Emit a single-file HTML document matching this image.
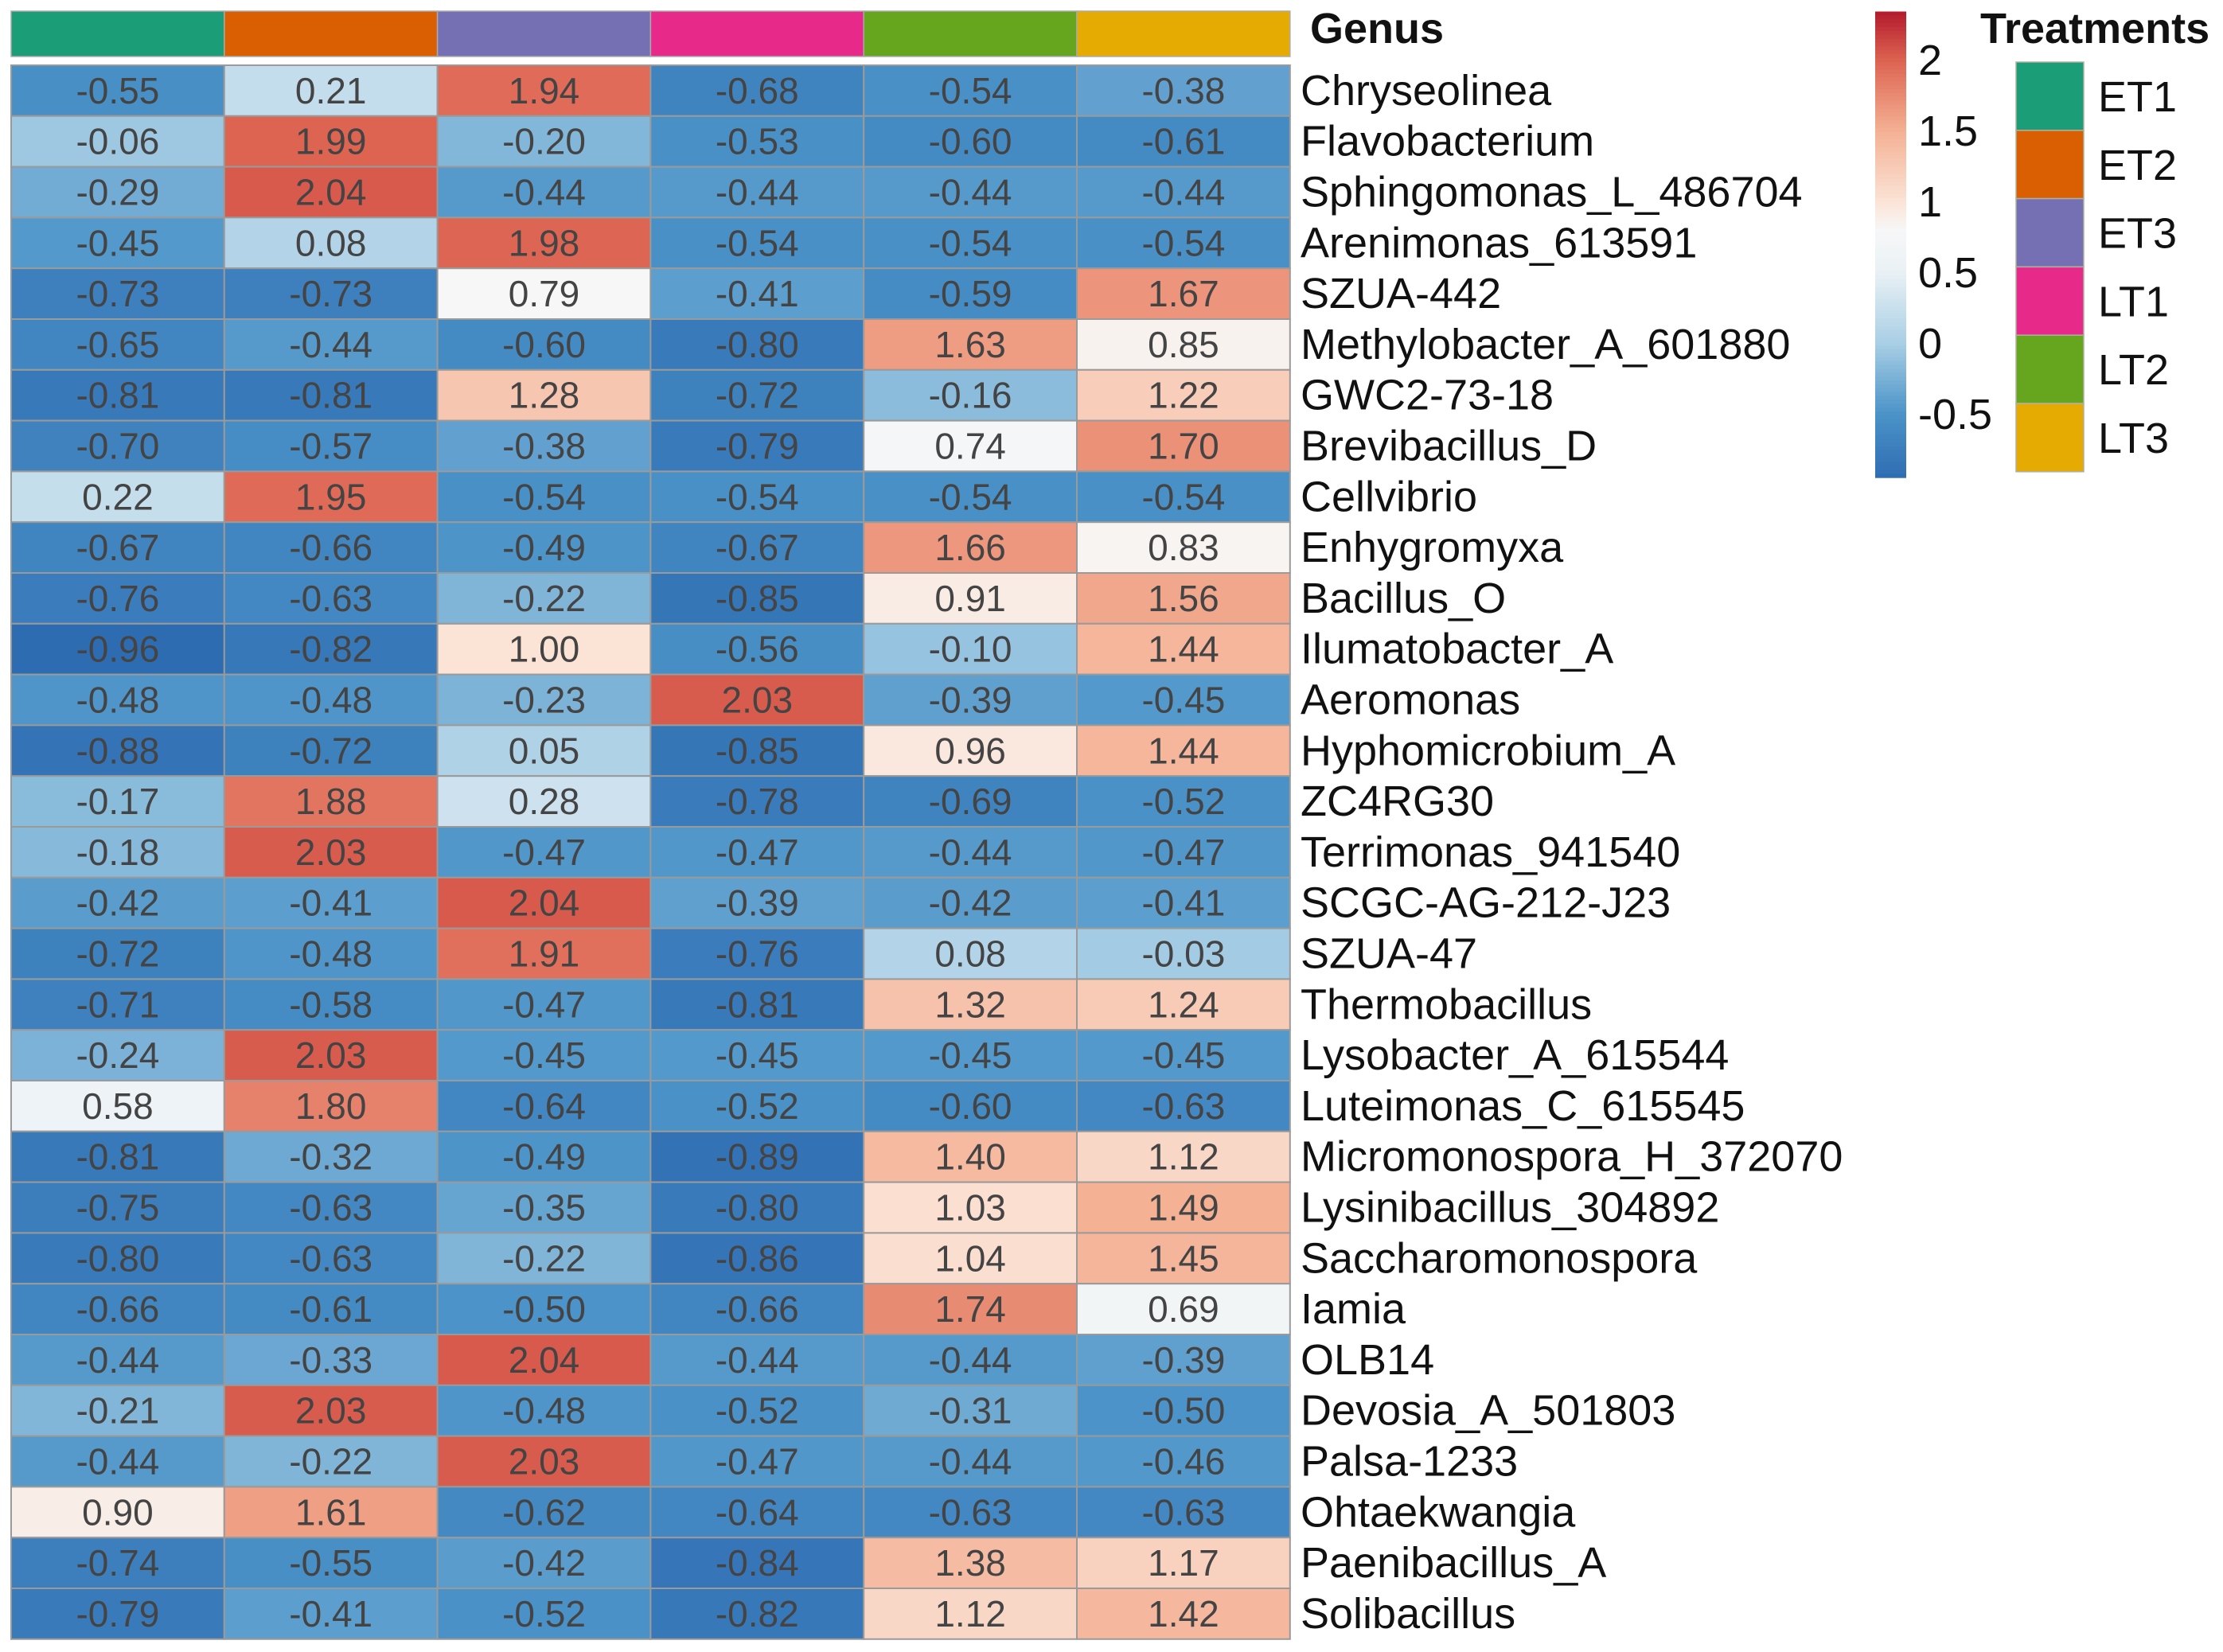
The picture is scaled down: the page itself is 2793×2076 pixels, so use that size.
<!DOCTYPE html>
<html><head><meta charset="utf-8">
<style>
html,body{margin:0;padding:0;background:#fff;}
svg{display:block;}
</style></head>
<body>
<svg id="chart" width="2793" height="2076" xmlns="http://www.w3.org/2000/svg"></svg>
<script>
const treatments = ["ET1","ET2","ET3","LT1","LT2","LT3"];
const treatmentColors = ["#1B9E77","#D95F02","#7570B3","#E7298A","#66A61E","#E6AB02"];
const genera = ["Chryseolinea","Flavobacterium","Sphingomonas_L_486704","Arenimonas_613591","SZUA-442","Methylobacter_A_601880","GWC2-73-18","Brevibacillus_D","Cellvibrio","Enhygromyxa","Bacillus_O","Ilumatobacter_A","Aeromonas","Hyphomicrobium_A","ZC4RG30","Terrimonas_941540","SCGC-AG-212-J23","SZUA-47","Thermobacillus","Lysobacter_A_615544","Luteimonas_C_615545","Micromonospora_H_372070","Lysinibacillus_304892","Saccharomonospora","Iamia","OLB14","Devosia_A_501803","Palsa-1233","Ohtaekwangia","Paenibacillus_A","Solibacillus"];
const values = [
[-0.55,0.21,1.94,-0.68,-0.54,-0.38],
[-0.06,1.99,-0.20,-0.53,-0.60,-0.61],
[-0.29,2.04,-0.44,-0.44,-0.44,-0.44],
[-0.45,0.08,1.98,-0.54,-0.54,-0.54],
[-0.73,-0.73,0.79,-0.41,-0.59,1.67],
[-0.65,-0.44,-0.60,-0.80,1.63,0.85],
[-0.81,-0.81,1.28,-0.72,-0.16,1.22],
[-0.70,-0.57,-0.38,-0.79,0.74,1.70],
[0.22,1.95,-0.54,-0.54,-0.54,-0.54],
[-0.67,-0.66,-0.49,-0.67,1.66,0.83],
[-0.76,-0.63,-0.22,-0.85,0.91,1.56],
[-0.96,-0.82,1.00,-0.56,-0.10,1.44],
[-0.48,-0.48,-0.23,2.03,-0.39,-0.45],
[-0.88,-0.72,0.05,-0.85,0.96,1.44],
[-0.17,1.88,0.28,-0.78,-0.69,-0.52],
[-0.18,2.03,-0.47,-0.47,-0.44,-0.47],
[-0.42,-0.41,2.04,-0.39,-0.42,-0.41],
[-0.72,-0.48,1.91,-0.76,0.08,-0.03],
[-0.71,-0.58,-0.47,-0.81,1.32,1.24],
[-0.24,2.03,-0.45,-0.45,-0.45,-0.45],
[0.58,1.80,-0.64,-0.52,-0.60,-0.63],
[-0.81,-0.32,-0.49,-0.89,1.40,1.12],
[-0.75,-0.63,-0.35,-0.80,1.03,1.49],
[-0.80,-0.63,-0.22,-0.86,1.04,1.45],
[-0.66,-0.61,-0.50,-0.66,1.74,0.69],
[-0.44,-0.33,2.04,-0.44,-0.44,-0.39],
[-0.21,2.03,-0.48,-0.52,-0.31,-0.50],
[-0.44,-0.22,2.03,-0.47,-0.44,-0.46],
[0.90,1.61,-0.62,-0.64,-0.63,-0.63],
[-0.74,-0.55,-0.42,-0.84,1.38,1.17],
[-0.79,-0.41,-0.52,-0.82,1.12,1.42]
];
const colorbarTicks = [2,1.5,1,0.5,0,-0.5];

const NS="http://www.w3.org/2000/svg";
const svg=document.getElementById('chart');
function mk(tag,attrs,parent){const e=document.createElementNS(NS,tag);for(const k in attrs)e.setAttribute(k,attrs[k]);(parent||svg).appendChild(e);return e;}

const stops=[[-1.0,[44,105,176]],[-0.5,[75,147,200]],[0,[169,207,229]],[0.5,[233,241,245]],[0.8,[247,247,247]],[1.0,[251,227,214]],[1.5,[244,176,147]],[2.0,[220,98,80]],[2.35,[178,24,43]]];
function color(v){
  if(v<=stops[0][0])return 'rgb('+stops[0][1]+')';
  for(let i=1;i<stops.length;i++){if(v<=stops[i][0]){const a=stops[i-1],b=stops[i];const t=(v-a[0])/(b[0]-a[0]);
    return 'rgb('+a[1].map((c,j)=>Math.round(c+(b[1][j]-c)*t)).join(',')+')';}}
  return 'rgb('+stops[stops.length-1][1]+')';
}
const X0=14,colW=267.8,Y0=82,rowH=63.8;
function xCol(i){return X0+i*colW;}
function yRow(r){return Y0+r*rowH;}

treatments.forEach((t,i)=>{
  const r=mk('rect',{x:xCol(i),y:14,width:colW,height:57,fill:treatmentColors[i],stroke:'#aaa','stroke-width':1.5});
  
  
});
const g=mk('text',{x:1646,y:54,'font-family':'Liberation Sans, sans-serif','font-size':54,'font-weight':'bold',fill:'#111'});
g.textContent='Genus';



values.forEach((row,r)=>{
  row.forEach((v,c)=>{
    const rc=mk('rect',{x:xCol(c),y:yRow(r),width:colW,height:rowH,fill:color(v),stroke:'#9a9a9a','stroke-width':2});
    
    
    const tx=mk('text',{x:xCol(c)+colW/2,y:yRow(r)+rowH/2+16,'text-anchor':'middle','font-family':'Liberation Sans Narrow, Liberation Sans, sans-serif','font-size':46,fill:'#444'});
    tx.textContent=v.toFixed(2);
    
    
  });
  const lb=mk('text',{x:1634,y:yRow(r)+rowH/2+18,'font-family':'Liberation Sans, sans-serif','font-size':54,fill:'#111'});
  lb.textContent=genera[r];
  
  
});

function yBar(v){return 520-(v+0.5)*178;}
const vTop=2.34,vBot=-0.95;
for(let k=0;k<120;k++){
  const v1=vTop-(vTop-vBot)*k/120,v2=vTop-(vTop-vBot)*(k+1)/120;
  const rr=mk('rect',{x:2356,y:yBar(v1),width:39,height:yBar(v2)-yBar(v1)+0.6,fill:color((v1+v2)/2)});
  
  
}
colorbarTicks.forEach(t=>{
  const tt=mk('text',{x:2410,y:yBar(t)+19,'font-family':'Liberation Sans, sans-serif','font-size':54,fill:'#111'});
  tt.textContent=String(t);
  
  
});

const lt=mk('text',{x:2488,y:54,'font-family':'Liberation Sans, sans-serif','font-size':54,'font-weight':'bold',fill:'#111'});
lt.textContent='Treatments';


treatments.forEach((t,i)=>{
  const y=78+i*85.8;
  const b=mk('rect',{x:2533,y:y,width:85,height:85.8,fill:treatmentColors[i],stroke:'#b0b0a0','stroke-width':1.5});
  
  
  const l=mk('text',{x:2636,y:y+62,'font-family':'Liberation Sans, sans-serif','font-size':54,fill:'#111'});
  l.textContent=t;
  
  
});
</script>
</body></html>
